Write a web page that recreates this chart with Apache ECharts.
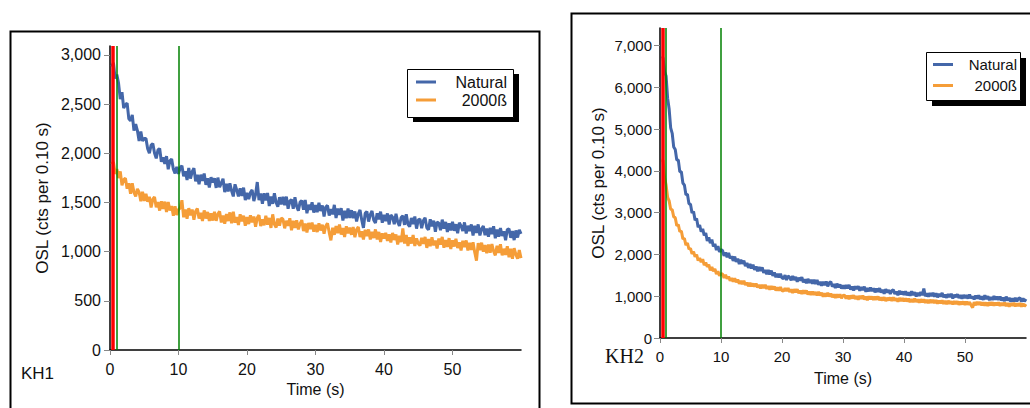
<!DOCTYPE html>
<html><head><meta charset="utf-8">
<script src="https://cdn.jsdelivr.net/npm/echarts@6/dist/echarts.min.js"></script>
<style>html,body{margin:0;padding:0;background:#fff}#c{width:1030px;height:408px}</style>
</head><body><div id="c"></div>
<script>
// sampling grid (s): one reading every 0.25 s from 0.25 to 60
const time = Array.from({length: 240}, (_, i) => (i + 1) * 0.25);
const xTicks = [0, 10, 20, 30, 40, 50];
const kh1Ticks = [0, 500, 1000, 1500, 2000, 2500, 3000];
const kh2Ticks = [0, 1000, 2000, 3000, 4000, 5000, 6000, 7000];
const seriesNames = ['Natural', '2000ß'];
const markers = [0.45, 1.0, 10];

const kh1Natural = [
 2880,2920,2760,2800,2710,2550,2620,2460,2490,2510,2350,2330,2390,2230,2295,2230,2125,2220,2125,2150,
 2150,2045,2000,2083,2098,2003,1948,2033,2048,1913,1958,1893,1970,1837,1924,1941,1838,1795,1862,1790,
 1852,1873,1765,1817,1728,1850,1742,1813,1849,1715,1780,1686,1782,1718,1793,1679,1745,1651,1756,1702,
 1745,1648,1752,1655,1698,1741,1605,1688,1611,1694,1618,1561,1684,1627,1561,1644,1567,1650,1524,1597,
 1534,1600,1627,1513,1580,1707,1523,1590,1487,1593,1520,1596,1463,1560,1486,1593,1499,1456,1553,1479,
 1556,1473,1559,1436,1513,1530,1436,1553,1460,1417,1503,1520,1427,1524,1390,1477,1424,1501,1397,1474,
 1400,1497,1413,1470,1356,1453,1469,1366,1432,1379,1475,1341,1438,1374,1441,1317,1414,1340,1437,1343,
 1421,1340,1408,1307,1385,1424,1322,1241,1389,1408,1306,1375,1413,1322,1290,1389,1327,1406,1294,1373,
 1310,1388,1275,1373,1350,1278,1385,1302,1260,1347,1365,1272,1380,1277,1254,1342,1279,1357,1234,1322,
 1330,1238,1316,1344,1242,1221,1329,1257,1315,1203,1301,1289,1217,1325,1233,1302,1200,1288,1216,1304,
 1212,1279,1187,1294,1262,1209,1297,1184,1262,1209,1277,1164,1262,1189,1277,1164,1232,1259,1167,1234,
 1152,1241,1179,1257,1136,1224,1152,1240,1159,1207,1115,1224,1232,1140,1208,1117,1215,1143,1222,1180];

const kh1Dose = [
 1890,1912,1790,1840,1748,1816,1674,1732,1746,1640,1694,1588,1695,1602,1560,1637,1604,1511,1609,1516,
 1587,1508,1558,1449,1533,1556,1450,1504,1417,1511,1434,1508,1402,1505,1419,1463,1366,1460,1373,1427,
 1444,1522,1349,1427,1334,1442,1369,1427,1324,1411,1439,1336,1394,1311,1419,1336,1403,1311,1388,1316,
 1404,1313,1381,1409,1297,1366,1284,1382,1311,1399,1287,1405,1294,1352,1270,1379,1307,1365,1264,1352,
 1280,1369,1297,1356,1254,1343,1371,1260,1328,1267,1365,1274,1342,1241,1379,1278,1246,1335,1263,1342,
 1329,1237,1314,1262,1339,1217,1314,1241,1319,1226,1284,1321,1209,1286,1194,1291,1228,1296,1203,1271,
 1199,1287,1215,1274,1182,1260,1288,1196,1114,1242,1171,1259,1187,1275,1173,1241,1149,1258,1186,1244,
 1171,1249,1146,1224,1251,1149,1206,1123,1221,1158,1226,1123,1201,1138,1226,1123,1200,1098,1185,1133,
 1190,1108,1175,1093,1190,1118,1175,1072,1160,1097,1235,1082,1170,1057,1145,1082,1169,1057,1134,1082,
 1061,1140,1079,1149,1038,1127,1056,1145,1064,1113,1032,1132,1071,1150,1039,1118,1047,1137,1026,1115,
 1052,1130,1037,1095,1012,1110,1047,1114,1012,1089,1017,1094,992,909,1087,1014,1091,999,1066,984,
 1072,989,1077,1004,962,1059,987,1074,962,1029,967,1054,942,1029,927,1034,972,929,1017,934];

const kh2Natural = [
 6700,6710,6370,6270,5740,5480,5030,4900,4570,4510,4260,4260,3980,3980,3710,3660,3430,3440,3210,3200,
 2990,3030,2820,2863,2653,2703,2543,2613,2457,2511,2325,2410,2273,2356,2189,2252,2105,2198,2061,2115,
 2095,1965,2045,1935,2035,1905,1955,1846,1949,1823,1896,1769,1873,1776,1849,1723,1796,1679,1773,1666,
 1754,1632,1710,1598,1696,1604,1692,1560,1628,1526,1625,1523,1611,1489,1567,1455,1533,1451,1539,1437,
 1421,1505,1389,1483,1457,1381,1485,1389,1463,1347,1441,1375,1459,1333,1407,1311,1415,1319,1393,1297,
 1391,1295,1389,1273,1347,1251,1345,1269,1353,1237,1321,1345,1229,1293,1197,1301,1215,1279,1183,1257,
 1183,1269,1185,1271,1157,1233,1139,1235,1171,1237,1133,1219,1145,1231,1107,1193,1119,1205,1122,1188,
 1094,1180,1106,1192,1088,1154,1060,1166,1092,1148,1054,1130,1156,1052,1108,1024,1130,1047,1113,1029,
 1117,1025,1093,1011,1119,1027,1095,993,1081,1009,1097,1025,1183,1001,1069,987,1075,1003,1081,989,
 1067,975,1053,991,1079,977,1035,963,1051,979,1057,945,1033,981,1048,956,1024,942,1030,958,
 1026,944,1042,950,998,926,1014,942,1021,929,997,915,1023,931,999,907,975,914,1002,920,
 987,914,991,898,965,883,990,897,964,871,948,875,962,879,946,964,871,948,875,932];

const kh2Dose = [
 4260,4250,3840,3660,3370,3282,3080,3072,2900,2880,2690,2713,2543,2563,2373,2384,2224,2274,2124,2145,
 2015,2065,1945,1995,1855,1915,1815,1885,1745,1805,1705,1756,1621,1696,1601,1656,1532,1597,1492,1537,
 1532,1437,1512,1417,1473,1368,1433,1348,1428,1338,1398,1298,1368,1288,1368,1268,1328,1238,1318,1238,
 1303,1228,1303,1207,1272,1187,1272,1197,1272,1176,1241,1156,1241,1166,1231,1135,1210,1135,1220,1135,
 1120,1195,1121,1196,1101,1166,1081,1167,1092,1167,1072,1137,1053,1138,1063,1138,1043,1109,1034,1109,
 1035,1101,1017,1103,1019,1085,991,1067,993,1079,994,1060,976,1042,958,1044,970,1046,952,1018,
 1026,944,1012,930,1018,946,1024,932,1001,919,1007,935,1013,921,989,907,995,924,992,910,
 988,916,994,902,970,898,976,884,962,900,969,887,975,893,951,869,957,885,953,879,
 947,875,943,861,929,857,945,863,921,849,927,855,923,841,909,837,915,843,911,838,
 906,824,892,830,898,816,885,813,891,819,877,805,883,811,879,797,866,804,872,790,
 869,798,858,787,726,855,784,863,792,861,781,850,779,848,767,856,785,855,774,843,
 782,851,769,838,777,846,765,833,752,831,770,839,757,826,765,834,753,821,760,809];

const BLUE = '#4467a9', ORANGE = '#f59d38', RED = '#ff0000', GREEN = '#008000';
const fmt = v => Number(v).toLocaleString('en-US');
const pairs = arr => time.map((t, i) => [t, arr[i]]);

function xAxis(grid, fs, gap) {
  return {
    gridIndex: grid, type: 'value', min: 0, max: 60,
    axisLine: {show: true, onZero: false, lineStyle: {color: '#000', width: 1.5}},
    axisTick: {show: true, customValues: xTicks, length: 5, lineStyle: {color: '#888'}},
    axisLabel: {customValues: xTicks, fontSize: fs, color: '#111', margin: 11, fontFamily: 'Liberation Sans'},
    splitLine: {show: false},
    name: 'Time (s)', nameLocation: 'middle', nameGap: gap,
    nameTextStyle: {fontSize: 16, color: '#111', fontFamily: 'Liberation Sans'}
  };
}
function yAxis(grid, max, ticks, fs, gap, margin) {
  return {
    gridIndex: grid, type: 'value', min: 0, max: max,
    axisLine: {show: true, lineStyle: {color: '#000', width: 1.5}},
    axisTick: {show: true, customValues: ticks, length: 6, lineStyle: {color: '#888'}},
    axisLabel: {customValues: ticks, fontSize: fs, color: '#111', margin: margin, formatter: fmt, fontFamily: 'Liberation Sans'},
    splitLine: {show: false},
    name: 'OSL (cts per 0.10 s)', nameLocation: 'middle', nameGap: gap, nameRotate: 90,
    nameTextStyle: {fontSize: 17, color: '#111', fontFamily: 'Liberation Sans'}
  };
}
function markLine(redX) {
  return {
    silent: true, symbol: ['none', 'none'], label: {show: false}, animation: false,
    data: [
      {xAxis: redX, lineStyle: {color: RED, width: 3.5, type: 'solid'}},
      {xAxis: markers[1], lineStyle: {color: GREEN, width: 1.5, type: 'solid'}},
      {xAxis: markers[2], lineStyle: {color: GREEN, width: 1.5, type: 'solid'}}
    ]
  };
}
function line(name, color, data, xi, extra) {
  return Object.assign({
    name: name, type: 'line', xAxisIndex: xi, yAxisIndex: xi, data: pairs(data),
    showSymbol: false, symbol: 'none', color: color,
    lineStyle: {color: color, width: 3}, emphasis: {disabled: true}, animation: false
  }, extra || {});
}
function legend(left, top, fs, gap, w) {
  return {
    left: left, top: top, orient: 'vertical', icon: 'rect', itemWidth: 20, itemHeight: 3,
    itemGap: gap, selectedMode: false, data: seriesNames, padding: 0,
    formatter: n => '{a|' + n + '}',
    textStyle: {color: '#111', fontSize: fs, fontFamily: 'Liberation Sans',
      rich: {a: {width: w, align: 'right', fontSize: fs, lineHeight: fs, fontFamily: 'Liberation Sans', color: '#111'}}}
  };
}

const chart = echarts.init(document.getElementById('c'), null, {renderer: 'svg'});
chart.setOption({
  backgroundColor: '#fff',
  animation: false,
  grid: [
    {left: 110, top: 46, right: 509, bottom: 58, containLabel: false},
    {left: 660, top: 28, right: 4, bottom: 70, containLabel: false}
  ],
  xAxis: [xAxis(0, 16, 29), xAxis(1, 15, 32)],
  yAxis: [yAxis(0, 3090, kh1Ticks, 16, 59, 9), yAxis(1, 7420, kh2Ticks, 15, 53, 8)],
  legend: [legend(416, 74, 16, 2, 66), legend(933, 57, 15, 6, 59)],
  graphic: [
    {type: 'rect', z: -10, shape: {x: 10.5, y: 31.5, width: 529, height: 420}, style: {fill: 'none', stroke: '#000', lineWidth: 2}},
    {type: 'rect', z: -10, shape: {x: 571.5, y: 13.5, width: 480, height: 390}, style: {fill: 'none', stroke: '#000', lineWidth: 2}},
    {type: 'rect', z: 3, shape: {x: 413, y: 74, width: 106, height: 48}, style: {fill: '#000'}},
    {type: 'rect', z: 3, shape: {x: 407.5, y: 69.5, width: 106, height: 48}, style: {fill: '#fff', stroke: '#000', lineWidth: 1}},
    {type: 'rect', z: 3, shape: {x: 932, y: 58, width: 94, height: 48}, style: {fill: '#000'}},
    {type: 'rect', z: 3, shape: {x: 926.5, y: 52.5, width: 94, height: 48}, style: {fill: '#fff', stroke: '#000', lineWidth: 1}},
    {type: 'text', z: 3, left: 21, top: 365, style: {text: 'KH1', fontSize: 17, fill: '#111', fontFamily: 'Liberation Sans'}},
    {type: 'text', z: 3, left: 605, top: 346, style: {text: 'KH2', fontSize: 20, fill: '#111', fontFamily: 'Liberation Serif'}}
  ],
  series: [
    line(seriesNames[0], BLUE, kh1Natural, 0),
    line(seriesNames[1], ORANGE, kh1Dose, 0, {markLine: markLine(markers[0])}),
    line(seriesNames[0], BLUE, kh2Natural, 1),
    line(seriesNames[1], ORANGE, kh2Dose, 1, {markLine: markLine(0.5)})
  ]
});
</script>
</body></html>
